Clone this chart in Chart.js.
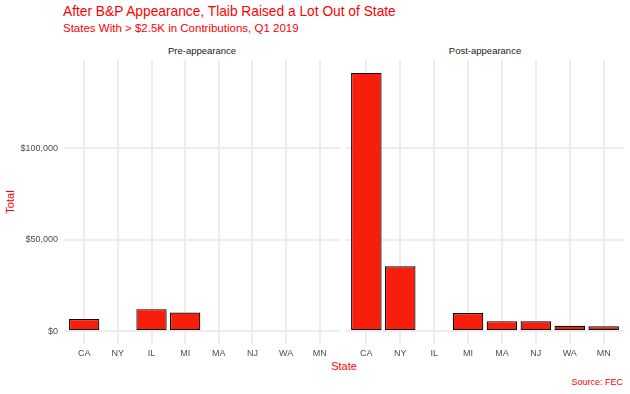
<!DOCTYPE html>
<html>
<head>
<meta charset="utf-8">
<script src="https://cdn.jsdelivr.net/npm/chart.js@4"></script>
<style>
  body { margin: 0; background: #fff; font-family: "Liberation Sans", Arial, sans-serif; }
  #wrap { position: relative; width: 630px; height: 394px; overflow: hidden; }
  canvas { position: absolute; }
  .txt { position: absolute; line-height: 1; white-space: nowrap; }
</style>
</head>
<body>
<div id="wrap">
  <div class="txt" style="left:63px; top:5px; font-size:13.75px; color:red;">After B&amp;P Appearance, Tlaib Raised a Lot Out of State</div>
  <div class="txt" style="left:63px; top:23.3px; font-size:11.5px; color:red;">States With &gt; $2.5K in Contributions, Q1 2019</div>
  <div class="txt" style="left:202px; top:46px; font-size:9.5px; color:#1a1a1a; transform:translateX(-50%);">Pre-appearance</div>
  <div class="txt" style="left:485px; top:46px; font-size:9.5px; color:#1a1a1a; transform:translateX(-50%);">Post-appearance</div>
  <div class="txt" style="left:9.5px; top:202px; font-size:11px; color:red; transform:translate(-50%,-50%) rotate(-90deg);">Total</div>
  <div class="txt" style="left:344px; top:360.5px; font-size:11px; color:red; transform:translateX(-50%);">State</div>
  <div class="txt" style="right:7px; top:377.5px; font-size:9px; color:red;">Source: FEC</div>
  <canvas id="pre" width="340" height="324" style="left:0; top:40px;"></canvas>
  <canvas id="post" width="278" height="324" style="left:346px; top:40px;"></canvas>
</div>
<script>
const states = ['CA', 'NY', 'IL', 'MI', 'MA', 'NJ', 'WA', 'MN'];
const preTotals = [6600, null, 12000, 10100, null, null, null, null];
const postTotals = [141200, 35400, null, 9850, 5450, 5350, 2950, 2600];
const yTicks = [0, 50000, 100000];

const maxTotal = Math.max(...preTotals, ...postTotals);
const yMin = -0.05 * maxTotal;
const yMax = maxTotal * 1.05;

const gridColor = '#ededed';
const tickFont = { family: '"Liberation Sans", Arial, sans-serif', size: 9 };

function money(v) {
  return '$' + v.toLocaleString('en-US');
}

function makeChart(id, values, showY) {
  return new Chart(document.getElementById(id), {
    type: 'bar',
    data: {
      datasets: [{
        data: states.map((s, i) => ({ x: i, y: values[i] })),
        backgroundColor: '#f71f0b',
        borderColor: '#000',
        borderWidth: 1.2,
        borderSkipped: false,
        barPercentage: 0.9,
        categoryPercentage: 1
      }]
    },
    options: {
      responsive: false,
      animation: false,
      events: [],
      layout: { padding: { top: 20, left: 0, right: 0, bottom: 0 } },
      plugins: { legend: { display: false }, tooltip: { enabled: false } },
      scales: {
        x: {
          type: 'linear',
          offset: false,
          min: -0.6,
          max: states.length - 1 + 0.6,
          afterBuildTicks: s => { s.ticks = states.map((st, i) => ({ value: i })); },
          afterFit: s => { s.height = 20; },
          grid: { color: gridColor, lineWidth: 2, drawTicks: false, offset: false },
          border: { display: false },
          ticks: {
            padding: 4,
            color: '#4d4d4d',
            font: tickFont,
            callback: v => states[v]
          }
        },
        y: {
          min: yMin,
          max: yMax,
          afterBuildTicks: s => { s.ticks = yTicks.map(v => ({ value: v })); },
          afterFit: s => { s.width = showY ? 64 : 0; },
          grid: { color: gridColor, lineWidth: 2, drawTicks: false },
          border: { display: false },
          ticks: {
            display: showY,
            padding: 6,
            color: '#4d4d4d',
            font: tickFont,
            callback: v => money(v)
          }
        }
      }
    }
  });
}

makeChart('pre', preTotals, true);
makeChart('post', postTotals, false);
</script>
</body>
</html>
